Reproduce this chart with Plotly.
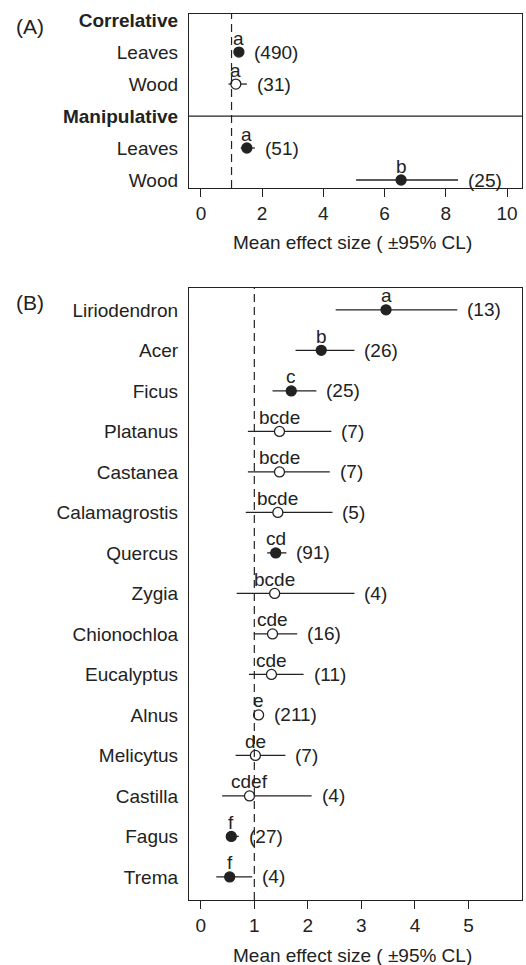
import plotly.graph_objects as go

# ---------- Panel A data ----------
a_labels = ["<b>Correlative</b>", "Leaves", "Wood", "<b>Manipulative</b>", "Leaves", "Wood"]
a_rows = [6, 5, 4, 3, 2, 1]
a_pt_rows = [5, 4, 2, 1]
a_mean = [1.24, 1.14, 1.50, 6.54]
a_lo = [1.17, 0.90, 1.30, 5.07]
a_hi = [1.31, 1.50, 1.76, 8.40]
a_filled = [True, False, True, True]
a_letters = ["a", "a", "a", "b"]
a_n = ["(490)", "(31)", "(51)", "(25)"]
a_xticks = [0, 2, 4, 6, 8, 10]

# ---------- Panel B data ----------
b_labels = ["Liriodendron", "Acer", "Ficus", "Platanus", "Castanea", "Calamagrostis",
            "Quercus", "Zygia", "Chionochloa", "Eucalyptus", "Alnus", "Melicytus",
            "Castilla", "Fagus", "Trema"]
b_rows = list(range(15, 0, -1))
b_mean = [3.46, 2.25, 1.69, 1.47, 1.47, 1.44, 1.40, 1.38, 1.34, 1.32, 1.08, 1.02, 0.91, 0.57, 0.54]
b_lo = [2.52, 1.77, 1.34, 0.88, 0.88, 0.84, 1.24, 0.67, 0.99, 0.90, 1.04, 0.65, 0.40, 0.47, 0.29]
b_hi = [4.79, 2.87, 2.16, 2.44, 2.41, 2.46, 1.60, 2.87, 1.80, 1.92, 1.12, 1.58, 2.07, 0.71, 0.96]
b_filled = [True, True, True, False, False, False, True, False, False, False, False, False, False, True, True]
b_letters = ["a", "b", "c", "bcde", "bcde", "bcde", "cd", "bcde", "cde", "cde", "e", "de", "cdef", "f", "f"]
b_n = ["(13)", "(26)", "(25)", "(7)", "(7)", "(5)", "(91)", "(4)", "(16)", "(11)", "(211)", "(7)", "(4)", "(27)", "(4)"]
b_xticks = [0, 1, 2, 3, 4, 5]

W, H = 526, 965
INK = "#222222"
FONT = "Liberation Sans, Arial, Helvetica, sans-serif"
FS = 19

def px_x(p):
    return p / W

def px_y(p):
    return 1 - p / H

fig = go.Figure()

def add_panel(xref, yref, rows, mean, lo, hi, filled, letters, ns, xrange_):
    for r, l, h in zip(rows, lo, hi):
        fig.add_trace(go.Scatter(x=[l, h], y=[r, r], mode="lines",
                                 line=dict(color=INK, width=1.3),
                                 xaxis=xref, yaxis=yref, showlegend=False,
                                 hoverinfo="skip"))
    fig.add_trace(go.Scatter(
        x=mean, y=rows, mode="markers",
        marker=dict(size=10, color=[INK if f else "white" for f in filled],
                    line=dict(color=INK, width=1.3)),
        xaxis=xref, yaxis=yref, showlegend=False))
    ppu = 333 / (xrange_[1] - xrange_[0])
    for r, m, h, let, n in zip(rows, mean, hi, letters, ns):
        fig.add_annotation(x=m, y=r, xref=xref, yref=yref, text=let, showarrow=False,
                           yshift=14, font=dict(family=FONT, size=FS, color=INK))
        right = max(h, m + 5 / ppu)
        fig.add_annotation(x=right, y=r, xref=xref, yref=yref, text=n, showarrow=False,
                           xanchor="left", xshift=8, font=dict(family=FONT, size=FS, color=INK))

a_xr = [-0.39, 10.49]
b_xr = [-0.22, 6.0]

add_panel("x", "y", a_pt_rows, a_mean, a_lo, a_hi, a_filled, a_letters, a_n, a_xr)
add_panel("x2", "y2", b_rows, b_mean, b_lo, b_hi, b_filled, b_letters, b_n, b_xr)

xdom = [px_x(189), px_x(522)]
axis_common = dict(showgrid=False, zeroline=False, showline=True, linecolor=INK,
                   linewidth=1.3, mirror=True, automargin=False,
                   tickfont=dict(family=FONT, size=FS, color=INK))

fig.update_layout(
    width=W, height=H, autosize=False,
    margin=dict(l=0, r=0, t=0, b=0),
    paper_bgcolor="white", plot_bgcolor="white",
    xaxis=dict(domain=xdom, range=a_xr, anchor="y", tickvals=a_xticks,
               ticks="outside", ticklen=8, tickwidth=1.3, tickcolor=INK, **axis_common),
    yaxis=dict(domain=[px_y(188), px_y(14)], range=[0.75, 6.19], anchor="x",
               tickvals=a_rows, ticktext=a_labels, ticks="", ticklabelstandoff=6,
               **axis_common),
    xaxis2=dict(domain=xdom, range=b_xr, anchor="y2", tickvals=b_xticks,
                ticks="outside", ticklen=8, tickwidth=1.3, tickcolor=INK, **axis_common),
    yaxis2=dict(domain=[px_y(900), px_y(288)], range=[0.43, 15.54], anchor="x2",
                tickvals=b_rows, ticktext=b_labels, ticks="", ticklabelstandoff=6,
                **axis_common),
)

fig.add_shape(type="line", xref="x", yref="y domain", x0=1, x1=1, y0=0, y1=1,
              line=dict(color=INK, width=1.2, dash="8px,5px"))
fig.add_shape(type="line", xref="x2", yref="y2 domain", x0=1, x1=1, y0=0, y1=1,
              line=dict(color=INK, width=1.2, dash="8px,5px"))
fig.add_shape(type="line", xref="x domain", yref="y", x0=0, x1=1, y0=3, y1=3,
              line=dict(color=INK, width=1.3))

for yp in (243, 955):
    fig.add_annotation(x=px_x(352), y=px_y(yp), xref="paper", yref="paper",
                       xanchor="center", yanchor="middle",
                       text="Mean effect size ( ±95% CL)", showarrow=False,
                       font=dict(family=FONT, size=FS, color=INK))
for lab, yp in (("(A)", 27), ("(B)", 302)):
    fig.add_annotation(x=px_x(30), y=px_y(yp), xref="paper", yref="paper",
                       xanchor="center", yanchor="middle",
                       text=lab, showarrow=False,
                       font=dict(family=FONT, size=21, color=INK))

fig.write_html("out.html", config={"displayModeBar": False},
               post_script="document.body.style.margin='0';document.body.style.overflow='hidden';")
